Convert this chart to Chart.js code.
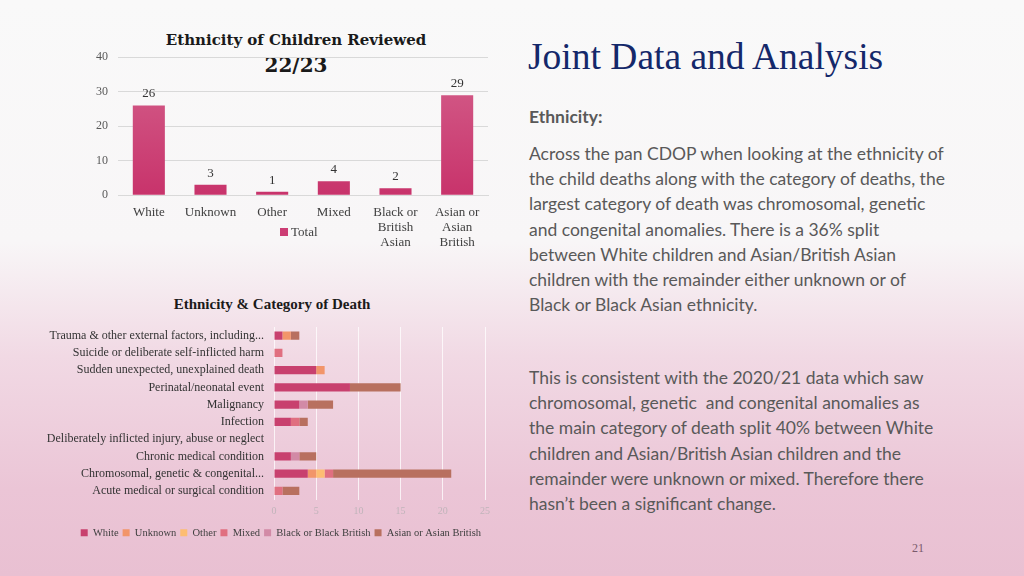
<!DOCTYPE html>
<html>
<head>
<meta charset="utf-8">
<script src="https://cdn.jsdelivr.net/npm/chart.js@4.4.0/dist/chart.umd.min.js"></script>
<style>
  html, body { margin: 0; padding: 0; }
  body {
    width: 1024px; height: 576px; position: relative; overflow: hidden;
    background: linear-gradient(to bottom, #f9f9f9 0%, #f8f6f7 42%, #f1d9e4 62%, #ebc5d6 85%, #e9c0d2 100%);
    font-family: "Liberation Serif", serif;
  }
  .abs { position: absolute; }
  #topTitle { left: 80px; top: 28px; width: 432px; text-align: center; font-family: "DejaVu Serif", serif; font-weight: bold; color: #1a1a1a; font-size: 15px; line-height: 25px; }
  #topTitle .yr { font-size: 20px; }
  #topLegend { left: 280px; top: 224px; font-size: 13px; color: #404040; }
  #topLegend span { display: inline-block; width: 8px; height: 8px; background: #cc3d74; margin-right: 3px; }
  #bottomTitle { left: 172px; top: 296px; width: 200px; text-align: center; font-size: 15px; font-weight: bold; color: #1a1a1a; white-space: nowrap; }
  #heading { left: 528px; top: 35px; font-size: 37.5px; color: #14286a; white-space: nowrap; }
  .txt { left: 529px; font-family: Lato, sans-serif; font-size: 17.5px; color: #595959; white-space: nowrap; line-height: 25.2px; }
  #pageNo { left: 912px; top: 541px; font-size: 12px; color: #7a5a6c; }
</style>
</head>
<body>

<div id="topTitle" class="abs">Ethnicity of Children Reviewed<br><span class="yr">22/23</span></div>
<canvas id="ethnicityChart" class="abs" style="left:80px; top:40px;" width="420" height="212"></canvas>
<div id="topLegend" class="abs"><span></span>Total</div>

<div id="bottomTitle" class="abs">Ethnicity &amp; Category of Death</div>
<canvas id="categoryChart" class="abs" style="left:40px; top:292px;" width="470" height="256"></canvas>

<div id="heading" class="abs">Joint Data and Analysis</div>
<div class="abs txt" style="top:104px; font-weight:bold;">Ethnicity:</div>
<div class="abs txt" style="top:141px;">
  Across the pan CDOP when looking at the ethnicity of<br>
  the child deaths along with the category of deaths, the<br>
  largest category of death was chromosomal, genetic<br>
  and congenital anomalies. There is a 36% split<br>
  between White children and Asian/British Asian<br>
  children with the remainder either unknown or of<br>
  Black or Black Asian ethnicity.
</div>
<div class="abs txt" style="top:365px;">
  This is consistent with the 2020/21 data which saw<br>
  chromosomal, genetic &nbsp;and congenital anomalies as<br>
  the main category of death split 40% between White<br>
  children and Asian/British Asian children and the<br>
  remainder were unknown or mixed. Therefore there<br>
  hasn’t been a significant change.
</div>
<div id="pageNo" class="abs">21</div>

<script>
// Ethnicity totals
var ethnicityLabels = ['White', 'Unknown', 'Other', 'Mixed', ['Black or', 'British', 'Asian'], ['Asian or', 'Asian', 'British']];
var ethnicityTotals = [26, 3, 1, 4, 2, 29];

// Category of death by ethnicity
var categoryLabels = [
    'Trauma & other external factors, including...',
    'Suicide or deliberate self-inflicted harm',
    'Sudden unexpected, unexplained death',
    'Perinatal/neonatal event',
    'Malignancy',
    'Infection',
    'Deliberately inflicted injury, abuse or neglect',
    'Chronic medical condition',
    'Chromosomal, genetic & congenital...',
    'Acute medical or surgical condition'
];
var seriesNames = ['White', 'Unknown', 'Other', 'Mixed', 'Black or Black British', 'Asian or Asian British'];
var whiteValues   = [1, 0, 5, 9, 3, 2, 0, 2, 4, 0];
var unknownValues = [1, 0, 1, 0, 0, 0, 0, 0, 1, 0];
var otherValues   = [0, 0, 0, 0, 0, 0, 0, 0, 1, 0];
var mixedValues   = [0, 1, 0, 0, 0, 1, 0, 0, 1, 1];
var blackValues   = [0, 0, 0, 0, 1, 0, 0, 1, 0, 0];
var asianValues   = [1, 0, 0, 6, 3, 1, 0, 2, 14, 2];
var xTicks = [0, 5, 10, 15, 20, 25];

var serif = "'Liberation Serif', serif";

// Value labels above the bars
var valueLabels = {
    id: 'valueLabels',
    afterDatasetsDraw: function (chart) {
        var ctx = chart.ctx;
        var meta = chart.getDatasetMeta(0);
        ctx.save();
        ctx.font = "13px " + serif;
        ctx.fillStyle = '#333333';
        ctx.textAlign = 'center';
        ctx.textBaseline = 'bottom';
        meta.data.forEach(function (bar, i) {
            ctx.fillText(chart.data.datasets[0].data[i], bar.x, bar.y - 5);
        });
        ctx.restore();
    }
};

var ctx = document.getElementById('ethnicityChart').getContext('2d');
var ethnicityChart = new Chart(ctx, {
    type: 'bar',
    data: {
        labels: ethnicityLabels,
        datasets: [{
            label: 'Total',
            data: ethnicityTotals,
            backgroundColor: function (c) {
                var area = c.chart.chartArea;
                if (!area) return '#cc3d74';
                var g = c.chart.ctx.createLinearGradient(0, area.bottom, 0, area.top);
                g.addColorStop(0, '#c8336b');
                g.addColorStop(1, '#d4618c');
                return g;
            },
            barPercentage: 0.52,
            categoryPercentage: 1
        }]
    },
    options: {
        responsive: false,
        animation: false,
        layout: { padding: { top: 0, right: 12, left: 6 } },
        plugins: { legend: { display: false }, tooltip: { enabled: false } },
        scales: {
            y: {
                min: 0, max: 40,
                ticks: { stepSize: 10, color: '#595959', font: { size: 12, family: serif }, padding: 10 },
                grid: { color: '#d9d9d9', drawTicks: false },
                border: { display: false }
            },
            x: {
                ticks: { color: '#404040', font: { size: 13, family: serif, lineHeight: 1.15 }, maxRotation: 0, autoSkip: false, padding: 2 },
                grid: { display: false },
                border: { color: '#d9d9d9' }
            }
        }
    },
    plugins: [valueLabels]
});

var colours = ['#c8406e', '#f2956a', '#fdbd72', '#e06f80', '#d28aa6', '#b8705f'];
var seriesValues = [whiteValues, unknownValues, otherValues, mixedValues, blackValues, asianValues];

ctx = document.getElementById('categoryChart').getContext('2d');
var categoryChart = new Chart(ctx, {
    type: 'bar',
    data: {
        labels: categoryLabels,
        datasets: seriesNames.map(function (name, i) {
            return {
                label: name,
                data: seriesValues[i],
                backgroundColor: colours[i],
                barPercentage: 0.47,
                categoryPercentage: 1
            };
        })
    },
    options: {
        indexAxis: 'y',
        responsive: false,
        animation: false,
        layout: { padding: { top: 35, right: 25, left: 0 } },
        plugins: {
            legend: {
                position: 'bottom',
                align: 'end',
                labels: { boxWidth: 7, boxHeight: 7, padding: 4, color: '#404040', font: { size: 10.5, family: serif } }
            },
            tooltip: { enabled: false }
        },
        scales: {
            x: {
                stacked: true,
                min: 0, max: 25,
                afterBuildTicks: function (axis) {
                    axis.ticks = xTicks.map(function (v) { return { value: v }; });
                },
                ticks: { color: '#c0b4ba', font: { size: 10, family: serif }, padding: 6 },
                grid: { color: 'rgba(255,255,255,0.75)', drawTicks: false },
                border: { display: false }
            },
            y: {
                stacked: true,
                afterFit: function (scale) { scale.width = 234; },
                ticks: { color: '#333333', font: { size: 12, family: serif }, autoSkip: false, padding: 2 },
                grid: { display: false },
                border: { display: false }
            }
        }
    }
});
</script>
</body>
</html>
